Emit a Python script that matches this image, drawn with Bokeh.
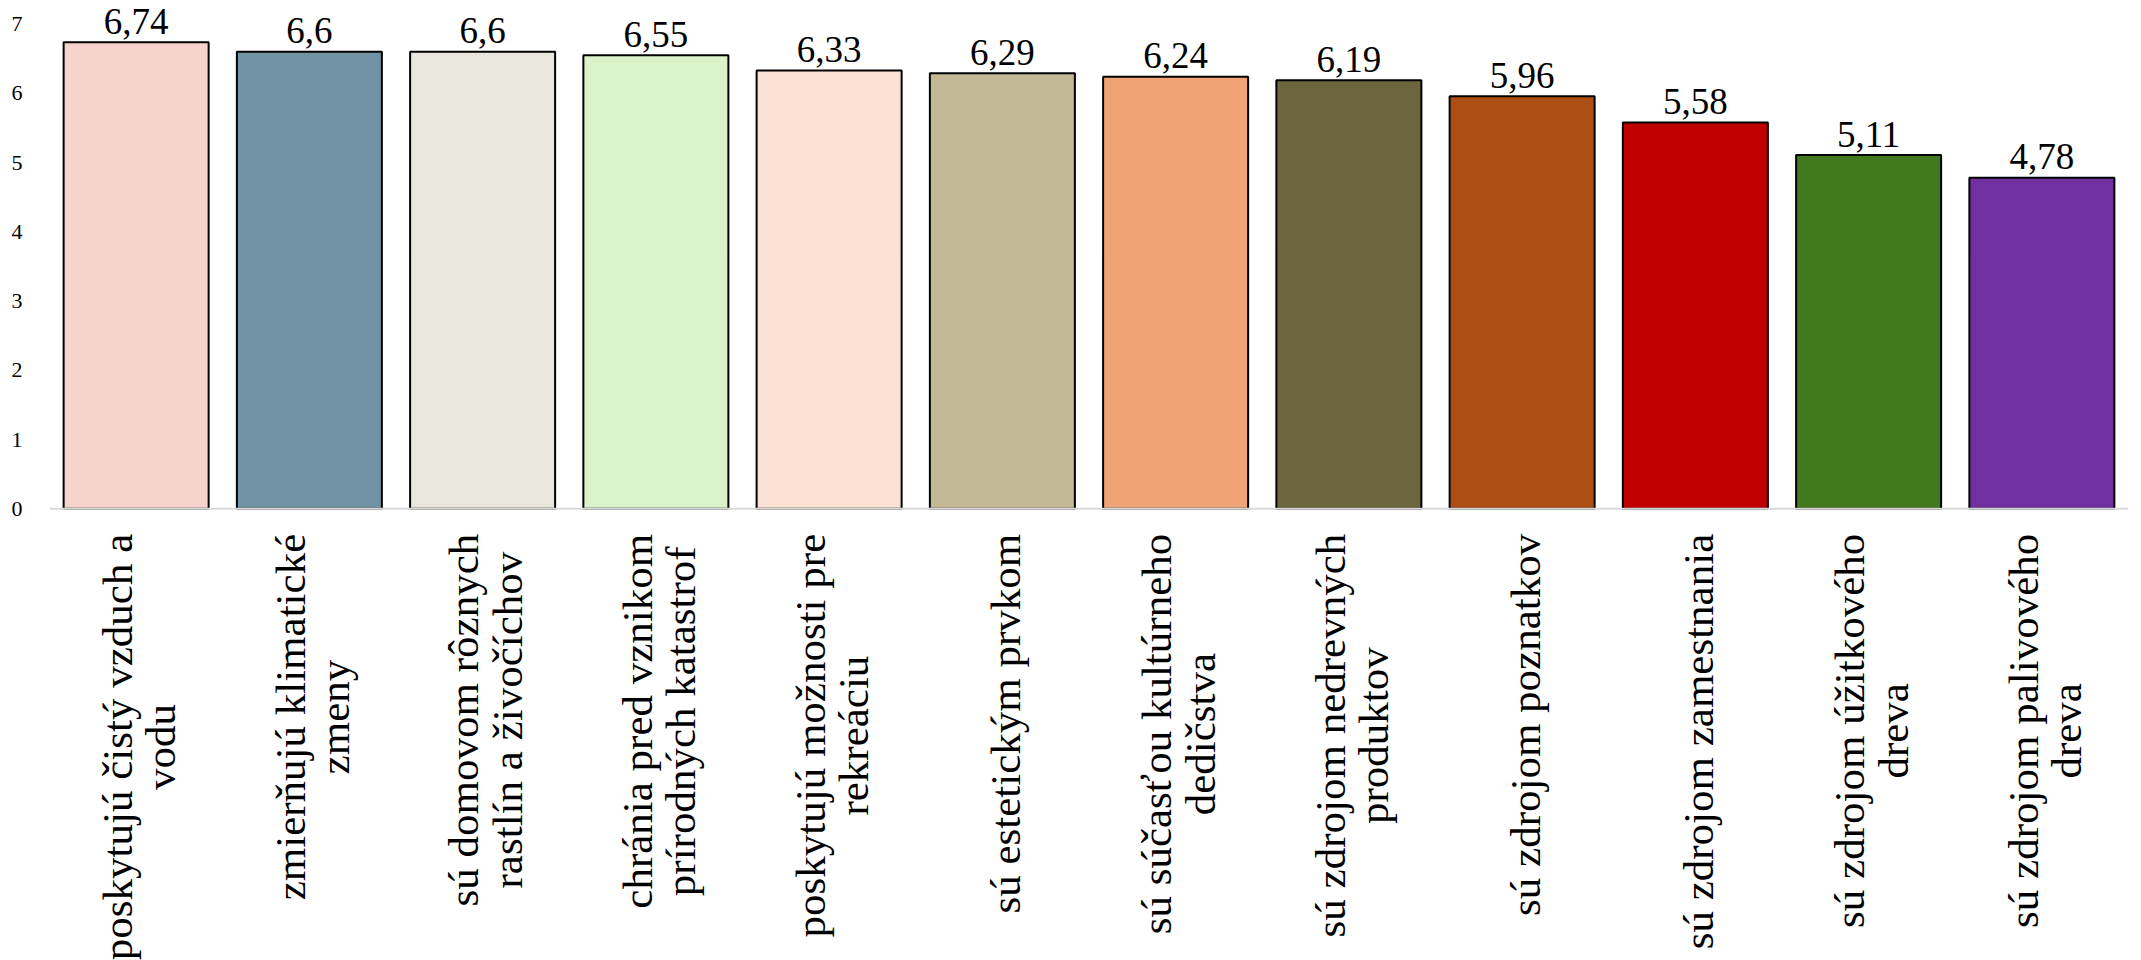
import math
from bokeh.plotting import figure
from bokeh.models import ColumnDataSource, FactorRange, Range1d, FixedTicker, Span
from bokeh.core.properties import value
from bokeh.embed import file_html
from bokeh.resources import INLINE

categories = [
    "poskytujú čistý vzduch a\nvodu",
    "zmierňujú klimatické\nzmeny",
    "sú domovom rôznych\nrastlín a živočíchov",
    "chránia pred vznikom\nprírodných katastrof",
    "poskytujú možnosti pre\nrekreáciu",
    "sú estetickým prvkom",
    "sú súčasťou kultúrneho\ndedičstva",
    "sú zdrojom nedrevných\nproduktov",
    "sú zdrojom poznatkov",
    "sú zdrojom zamestnania",
    "sú zdrojom úžitkového\ndreva",
    "sú zdrojom palivového\ndreva",
]
values = [6.74, 6.6, 6.6, 6.55, 6.33, 6.29, 6.24, 6.19, 5.96, 5.58, 5.11, 4.78]
colors = [
    "#F7D3CE", "#7092A2", "#E9E7DD", "#DAF2C8", "#FBE2D5", "#C2B895",
    "#F0A375", "#6C663F", "#AD4E14", "#C00000", "#42791D", "#7030A0",
]
y_ticks = [0, 1, 2, 3, 4, 5, 6, 7]

value_labels = [f"{v:g}".replace(".", ",") for v in values]

source = ColumnDataSource(dict(
    cat=categories, val=values, color=colors, lab=value_labels,
    zero=[0] * len(values),
))

FONT = value("Liberation Serif")

p = figure(
    width=2141, height=960,
    x_range=FactorRange(factors=categories, range_padding=0),
    y_range=Range1d(-6.525, 7.342),
    output_backend="svg", toolbar_location=None,
    x_axis_location=None,
    min_border_left=49, min_border_right=13,
    min_border_top=0, min_border_bottom=0,
)
p.outline_line_color = None
p.xgrid.visible = False
p.ygrid.visible = False

p.vbar(x="cat", top="val", width=0.837, fill_color="color",
       line_color="black", line_width=2, source=source)

p.add_layout(Span(location=0, dimension="width", line_color="#D9D9D9", line_width=2))

# value labels
p.text(x="cat", y="val", text="lab", source=source,
       text_align="center", text_baseline="alphabetic", y_offset=-21,
       text_font=FONT, text_font_size="37px", text_color="black")

# category labels (rotated, anchored at top)
p.text(x="cat", y="zero", text="cat", source=source,
       angle=math.pi / 2, anchor=value("center_right"),
       text_align="center", text_baseline="middle", y_offset=25, x_offset=3,
       text_font=FONT, text_font_size="43px", text_color="black",
       text_line_height=0.93)

yax = p.yaxis[0]
yax.ticker = FixedTicker(ticks=y_ticks)
yax.axis_line_color = None
yax.major_tick_line_color = None
yax.minor_tick_line_color = None
yax.major_label_text_font = "Liberation Serif"
yax.major_label_text_font_size = "22px"
yax.major_label_text_color = "black"
yax.major_label_standoff = 21

open("out.html", "w").write(file_html(p, INLINE))
